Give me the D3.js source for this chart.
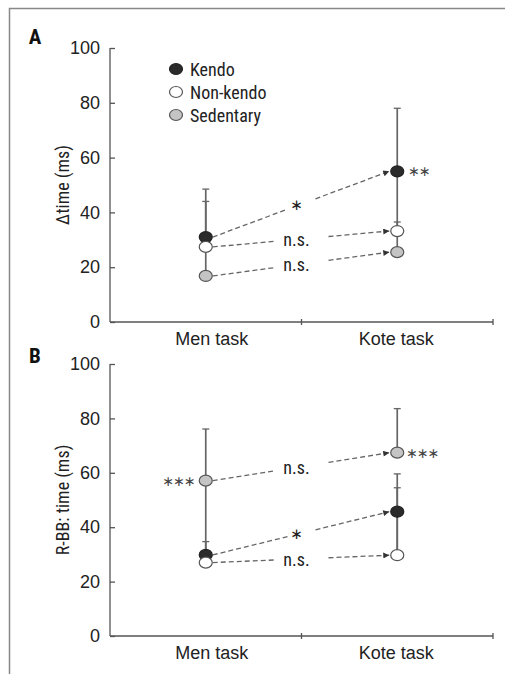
<!DOCTYPE html>
<html>
<head>
<meta charset="utf-8">
<script src="https://cdn.jsdelivr.net/npm/d3@7"></script>
<style>
  body { margin: 0; background: #fff; }
  svg { display: block; font-family: "Liberation Sans Narrow", "Roboto Condensed", "Liberation Sans", sans-serif; }
  .axis path, .axis line { stroke: #555; stroke-width: 1.3; }
  .axis text { font-size: 18px; fill: #222; }
</style>
</head>
<body>
<svg id="chart"></svg>
<script>
const tasks = ["Men task", "Kote task"];
const groups = ["Kendo", "Non-kendo", "Sedentary"];
const groupFill = ["#2b2b2b", "#ffffff", "#c4c4c4"];
const yTicks = [0, 20, 40, 60, 80, 100];

// panel A: Δtime (ms), means per group [men, kote]
const deltaKendo = [31, 55];
const deltaNonKendo = [27.4, 33.2];
const deltaSedentary = [16.8, 25.5];
// whisker ends (upper, lower), null = none
const deltaHi = [[48.5, 78], [44, 36.5], [null, null]];
const deltaLo = [[null, 33], [17, 25.5], [null, null]];
const deltaSig = ["*", "n.s.", "n.s."];

// panel B: R-BB time (ms)
const rbbKendo = [29.8, 45.7];
const rbbNonKendo = [27, 29.7];
const rbbSedentary = [57.1, 67.4];
const rbbHi = [[34.7, 59.6], [null, 54.5], [76.1, 83.6]];
const rbbLo = [[null, 29.7], [null, null], [29.8, null]];
const rbbSig = ["*", "n.s.", "n.s."];

const W = 505, H = 674;
const svg = d3.select("#chart").attr("width", W).attr("height", H);

svg.append("defs").append("marker")
    .attr("id", "arrow")
    .attr("viewBox", "0 0 10 10")
    .attr("refX", 10).attr("refY", 5)
    .attr("markerWidth", 10).attr("markerHeight", 6)
    .attr("markerUnits", "userSpaceOnUse")
    .attr("orient", "auto")
    .append("path")
    .attr("d", "M0,0 L10,5 L0,10 Z")
    .attr("fill", "#333");

// frame
svg.append("path")
    .attr("d", `M9.5,${H} L9.5,8.5 L${W},8.5`)
    .attr("fill", "none")
    .attr("stroke", "#888")
    .attr("stroke-width", 1.5);

function drawPanel(cfg) {
    const x = d3.scaleBand().domain(tasks).range([110, 493]);
    const y = d3.scaleLinear().domain([0, 100]).range(cfg.yRange);
    const g = svg.append("g");

    // y axis, ticks point inward
    const yAxisG = g.append("g").attr("class", "axis")
        .attr("transform", "translate(110,0)")
        .call(d3.axisLeft(y).tickValues(yTicks).tickSize(-5).tickSizeOuter(0).tickPadding(10));
    yAxisG.select(".domain").attr("d", `M0,${cfg.yRange[1]}V${cfg.yRange[0]}`);

    // x axis
    const xAxisG = g.append("g").attr("class", "axis")
        .attr("transform", `translate(0,${cfg.yRange[0]})`)
        .call(d3.axisBottom(x).tickSize(0).tickPadding(10));
    xAxisG.select(".domain").attr("d", `M110,0H493`);
    xAxisG.selectAll(".tick text").attr("dx", (d, i) => i === 0 ? 6 : -1);
    xAxisG.selectAll(".bnd").data(tasks).join("line")
        .attr("x1", d => x(d) + x.bandwidth()).attr("x2", d => x(d) + x.bandwidth())
        .attr("y1", -3).attr("y2", 3);

    // y label
    g.append("text")
        .attr("transform", `translate(63,${(cfg.yRange[0] + cfg.yRange[1]) / 2}) rotate(-90)`)
        .attr("text-anchor", "middle").attr("dy", "0.35em")
        .style("font-size", "18px").attr("fill", "#222")
        .text(cfg.yLabel);

    // panel letter
    g.append("text")
        .attr("x", 35).attr("y", cfg.letterY)
        .attr("text-anchor", "middle").attr("dy", "0.35em")
        .style("font-size", "21px").style("font-weight", "bold").attr("fill", "#111")
        .text(cfg.letter);

    const cx = d => x(d) + x.bandwidth() / 2;

    // error bars
    cfg.series.forEach((vals, gi) => {
        tasks.forEach((t, ti) => {
            const hi = cfg.hi[gi][ti], lo = cfg.lo[gi][ti];
            if (hi !== null) {
                g.append("line").attr("x1", cx(t)).attr("x2", cx(t))
                    .attr("y1", y(vals[ti])).attr("y2", y(hi))
                    .attr("stroke", "#666").attr("stroke-width", 1.7);
                g.append("line").attr("x1", cx(t) - 3.5).attr("x2", cx(t) + 3.5)
                    .attr("y1", y(hi)).attr("y2", y(hi))
                    .attr("stroke", "#666").attr("stroke-width", 1.3);
            }
            if (lo !== null) {
                g.append("line").attr("x1", cx(t)).attr("x2", cx(t))
                    .attr("y1", y(vals[ti])).attr("y2", y(lo))
                    .attr("stroke", "#666").attr("stroke-width", 1.7);
            }
        });
    });

    // dashed arrows with a gap for the label
    cfg.series.forEach((vals, gi) => {
        const x0 = cx(tasks[0]) + 7, y0 = y(vals[0]);
        const x1 = cx(tasks[1]) - 8, y1 = y(vals[1]);
        const dx = x1 - x0, dy = y1 - y0;
        const mx = (cx(tasks[0]) + cx(tasks[1])) / 2;
        const tMid = (mx - x0) / dx;
        const star = cfg.sig[gi] === "*";
        const half = star ? 14 : 27;
        const tA = tMid - half / dx, tB = tMid + half / dx;
        g.append("line")
            .attr("x1", x0).attr("y1", y0)
            .attr("x2", x0 + dx * tA).attr("y2", y0 + dy * tA)
            .attr("stroke", "#666").attr("stroke-width", 1.3).attr("stroke-dasharray", "5,3");
        g.append("line")
            .attr("x1", x0 + dx * tB).attr("y1", y0 + dy * tB)
            .attr("x2", x1).attr("y2", y1)
            .attr("stroke", "#666").attr("stroke-width", 1.3).attr("stroke-dasharray", "5,3")
            .attr("marker-end", "url(#arrow)");
        g.append("text")
            .attr("x", mx - 5).attr("y", y0 + dy * tMid + (star ? 1 : 1))
            .attr("text-anchor", "middle")
            .attr("dy", "0.35em")
            .style("font-family", star ? "DejaVu Sans" : null)
            .style("font-size", star ? "15px" : "18px")
            .attr("fill", "#222")
            .text(star ? "\u2217" : cfg.sig[gi]);
    });

    // markers: kendo, sedentary, then non-kendo on top
    [0, 2, 1].forEach(gi => {
        g.selectAll(null).data(tasks).join("ellipse")
            .attr("cx", d => cx(d))
            .attr("cy", (d, ti) => y(cfg.series[gi][ti]))
            .attr("rx", 6.5).attr("ry", 5.5)
            .attr("fill", groupFill[gi])
            .attr("stroke", gi === 0 ? "#222" : "#555")
            .attr("stroke-width", 1.2);
    });

    // significance stars next to markers
    cfg.stars.forEach(s => {
        g.append("text")
            .attr("x", cx(tasks[s.task]) + s.dx)
            .attr("y", y(cfg.series[s.group][s.task]))
            .attr("dy", "0.35em")
            .attr("text-anchor", s.dx > 0 ? "start" : "end")
            .style("font-family", "DejaVu Sans")
            .style("font-size", "14px")
            .style("letter-spacing", "-1px")
            .attr("fill", "#444")
            .text(s.text);
    });
}

drawPanel({
    letter: "A", letterY: 37,
    yRange: [322, 48],
    yLabel: "\u0394time (ms)",
    series: [deltaKendo, deltaNonKendo, deltaSedentary],
    hi: deltaHi, lo: deltaLo, sig: deltaSig,
    stars: [{ group: 0, task: 1, dx: 11, text: "\u2217\u2217" }]
});

drawPanel({
    letter: "B", letterY: 356,
    yRange: [636, 364],
    yLabel: "R-BB: time (ms)",
    series: [rbbKendo, rbbNonKendo, rbbSedentary],
    hi: rbbHi, lo: rbbLo, sig: rbbSig,
    stars: [
        { group: 2, task: 0, dx: -11, text: "\u2217\u2217\u2217" },
        { group: 2, task: 1, dx: 9, text: "\u2217\u2217\u2217" }
    ]
});

// legend (in panel A)
const legend = svg.append("g").attr("transform", "translate(176,69)");
groups.forEach((name, i) => {
    const row = legend.append("g").attr("transform", `translate(0,${i * 23})`);
    row.append("ellipse").attr("rx", 6.5).attr("ry", 5.5)
        .attr("fill", groupFill[i])
        .attr("stroke", i === 0 ? "#222" : "#555").attr("stroke-width", 1.2);
    row.append("text").attr("x", 14).attr("dy", "0.38em")
        .style("font-size", "18px").attr("fill", "#222")
        .text(name);
});
</script>
</body>
</html>
